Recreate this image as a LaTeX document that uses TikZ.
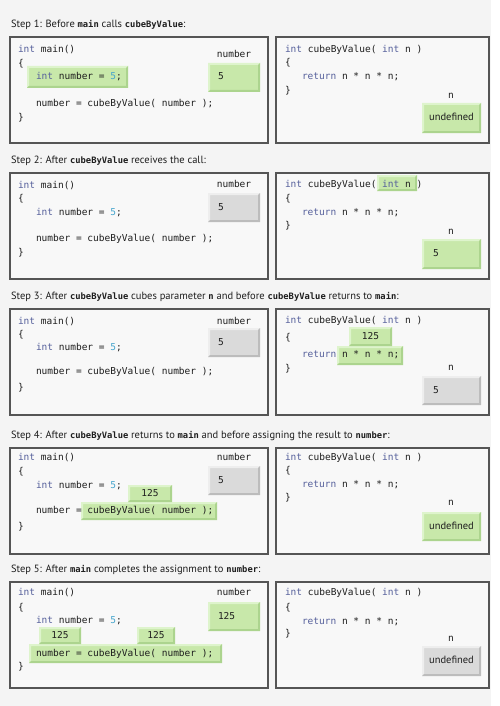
\documentclass[tikz,border=0pt]{standalone}
\usepackage{fontspec}
\setmainfont{PT Sans}
\newfontfamily\codefont{DejaVu Sans Mono}
\definecolor{pagebg}{RGB}{244,244,244}
\definecolor{panelbg}{RGB}{248,248,248}
\definecolor{frame}{RGB}{85,85,85}
\definecolor{txt}{RGB}{30,30,30}
\definecolor{kwc}{RGB}{85,95,155}
\definecolor{litc}{RGB}{70,165,205}
\definecolor{gfill}{RGB}{200,232,170}
\definecolor{glite}{RGB}{222,244,204}
\definecolor{gdark}{RGB}{172,212,142}
\definecolor{kfill}{RGB}{218,218,218}
\definecolor{klite}{RGB}{238,238,238}
\definecolor{kdark}{RGB}{188,188,188}
\newcommand\kwd[1]{\textcolor{kwc}{#1}}
\newcommand\litv[1]{\textcolor{litc}{#1}}
\newcommand\cc[1]{{\codefont\bfseries\fontsize{8.8}{11}\selectfont #1}}
\newcommand\bev[5]{%
  \fill[#1fill] (#2,#3) rectangle (#4,#5);
  \fill[#1lite] (#2,#3) -- (#4,#3) -- (#4-2,#3+2) -- (#2+2,#3+2) -- (#2+2,#5-2) -- (#2,#5) -- cycle;
  \fill[#1dark] (#4,#5) -- (#2,#5) -- (#2+2,#5-2) -- (#4-2,#5-2) -- (#4-2,#3+2) -- (#4,#3) -- cycle;
}
\tikzset{
  every node/.style={inner sep=0pt, outer sep=0pt},
  code/.style={anchor=mid west, font=\codefont\fontsize{9.5}{11}\selectfont, text=txt},
  lbl/.style={anchor=mid, font=\codefont\fontsize{9.5}{11}\selectfont, text=txt},
  captxt/.style={anchor=mid west, font=\fontsize{10.5}{12}\selectfont, text=txt},
  undef/.style={anchor=mid, font=\fontsize{10.5}{12}\selectfont, text=txt},
  panel/.style={draw=frame, fill=panelbg, line width=1.2pt},
}
\begin{document}
\begin{tikzpicture}[x=1pt, y=-1pt]
\useasboundingbox (0,0) rectangle (500,706);
\fill[white] (0,0) rectangle (500,706);
\fill[pagebg] (0,0) rectangle (491,706);

% ---------------- Step 1 ----------------
\begin{scope}[shift={(0,37)}]
\node[captxt] (c1) at (11,-12) {Step 1: Before \cc{main} calls \cc{cubeByValue}:};
\draw[panel] (10,0) rectangle (268,106);
\draw[panel] (276,0) rectangle (489,106);
\bev{g}{27}{29}{128}{51}
\node[code] (a1) at (18,13) {\kwd{int} main()};
\node[code] (a2) at (18,27) {\{};
\node[code] (a3) at (36,40) {\kwd{int} number = \litv{5};};
\node[code] (a4) at (36,67) {number = cubeByValue( number );};
\node[code] (a5) at (18,81) {\}};
\node[lbl] (v1l) at (234,18) {number};
\bev{g}{208}{26}{260}{55}
\node[code] (v1) at (218,40.5) {5};
\node[code] (b1) at (285,13) {\kwd{int} cubeByValue( \kwd{int} n )};
\node[code] (b2) at (285,26) {\{};
\node[code] (b3) at (302,40) {\kwd{return} n * n * n;};
\node[code] (b4) at (285,54) {\}};
\node[lbl] (n1l) at (451,59) {n};
\bev{g}{422}{66}{481}{96}
\node[undef] (n1) at (451.5,81) {undefined};
\end{scope}

% ---------------- Step 2 ----------------
\begin{scope}[shift={(0,173)}]
\node[captxt] (c2) at (11,-12) {Step 2: After \cc{cubeByValue} receives the call:};
\draw[panel] (10,0) rectangle (268,106);
\draw[panel] (276,0) rectangle (489,106);
\node[code] (a1) at (18,12.5) {\kwd{int} main()};
\node[code] (a2) at (18,26) {\{};
\node[code] (a3) at (36,40) {\kwd{int} number = \litv{5};};
\node[code] (a4) at (36,66) {number = cubeByValue( number );};
\node[code] (a5) at (18,80) {\}};
\node[lbl] (v2l) at (234,12) {number};
\bev{k}{208}{20}{260}{49}
\node[code] (v2) at (218,34.5) {5};
\bev{g}{377}{2}{417}{18}
\node[code] (b1) at (285,12) {\kwd{int} cubeByValue( \kwd{int} n )};
\node[code] (b2) at (285,26) {\{};
\node[code] (b3) at (302,40) {\kwd{return} n * n * n;};
\node[code] (b4) at (285,53) {\}};
\node[lbl] (n2l) at (451,59) {n};
\bev{g}{422}{66}{481}{96}
\node[code] (n2) at (433,81) {5};
\end{scope}

% ---------------- Step 3 ----------------
\begin{scope}[shift={(0,309)}]
\node[captxt] (c3) at (11,-12) {Step 3: After \cc{cubeByValue} cubes parameter \cc{n} and before \cc{cubeByValue} returns to \cc{main}:};
\draw[panel] (10,0) rectangle (268,106);
\draw[panel] (276,0) rectangle (489,106);
\node[code] (a1) at (18,12.5) {\kwd{int} main()};
\node[code] (a2) at (18,26) {\{};
\node[code] (a3) at (36,39) {\kwd{int} number = \litv{5};};
\node[code] (a4) at (36,63) {number = cubeByValue( number );};
\node[code] (a5) at (18,79) {\}};
\node[lbl] (v3l) at (234,12.5) {number};
\bev{k}{208}{19}{260}{48}
\node[code] (v3) at (218,33.5) {5};
\bev{g}{337}{37}{403}{56}
\bev{g}{349}{18}{392}{37}
\node[lbl] (r3) at (370.5,27.5) {125};
\node[code] (b1) at (285,12) {\kwd{int} cubeByValue( \kwd{int} n )};
\node[code] (b2) at (285,29) {\{};
\node[code] (b3) at (302,46) {\kwd{return} n * n * n;};
\node[code] (b4) at (285,60) {\}};
\node[lbl] (n3l) at (451,59) {n};
\bev{k}{422}{67}{481}{96}
\node[code] (n3) at (433,81.5) {5};
\end{scope}

% ---------------- Step 4 ----------------
\begin{scope}[shift={(0,448)}]
\node[captxt] (c4) at (11,-12) {Step 4: After \cc{cubeByValue} returns to \cc{main} and before assigning the result to \cc{number}:};
\draw[panel] (10,0) rectangle (268,106);
\draw[panel] (276,0) rectangle (489,106);
\bev{g}{81}{54}{217}{72}
\bev{g}{128}{37}{172}{54}
\node[lbl] (r4) at (150,45.5) {125};
\node[code] (a1) at (18,10) {\kwd{int} main()};
\node[code] (a2) at (18,24) {\{};
\node[code] (a3) at (36,38) {\kwd{int} number = \litv{5};};
\node[code] (a4) at (36,63) {number = cubeByValue( number );};
\node[code] (a5) at (18,79) {\}};
\node[lbl] (v4l) at (234,10) {number};
\bev{k}{208}{18}{260}{47}
\node[code] (v4) at (218,32.5) {5};
\node[code] (b1) at (285,10) {\kwd{int} cubeByValue( \kwd{int} n )};
\node[code] (b2) at (285,23) {\{};
\node[code] (b3) at (302,37) {\kwd{return} n * n * n;};
\node[code] (b4) at (285,50) {\}};
\node[lbl] (n4l) at (451,55) {n};
\bev{g}{422}{64}{481}{93}
\node[undef] (n4) at (451.5,78.5) {undefined};
\end{scope}

% ---------------- Step 5 ----------------
\begin{scope}[shift={(0,582)}]
\node[captxt] (c5) at (11,-12) {Step 5: After \cc{main} completes the assignment to \cc{number}:};
\draw[panel] (10,0) rectangle (268,106);
\draw[panel] (276,0) rectangle (489,106);
\bev{g}{29}{62}{222}{81}
\bev{g}{39}{45}{81}{62}
\bev{g}{137}{45}{175}{62}
\node[lbl] (r5a) at (60,53.5) {125};
\node[lbl] (r5b) at (156,53.5) {125};
\node[code] (a1) at (18,11) {\kwd{int} main()};
\node[code] (a2) at (18,26) {\{};
\node[code] (a3) at (36,39) {\kwd{int} number = \litv{5};};
\node[code] (a4) at (36,71.5) {number = cubeByValue( number );};
\node[code] (a5) at (18,85) {\}};
\node[lbl] (v5l) at (234,11) {number};
\bev{g}{208}{20}{260}{49}
\node[code] (v5) at (218,34.5) {125};
\node[code] (b1) at (285,11) {\kwd{int} cubeByValue( \kwd{int} n )};
\node[code] (b2) at (285,26) {\{};
\node[code] (b3) at (302,40) {\kwd{return} n * n * n;};
\node[code] (b4) at (285,52) {\}};
\node[lbl] (n5l) at (451,57) {n};
\bev{k}{422}{64}{481}{94}
\node[undef] (n5) at (451.5,79) {undefined};
\end{scope}
\end{tikzpicture}
\end{document}
